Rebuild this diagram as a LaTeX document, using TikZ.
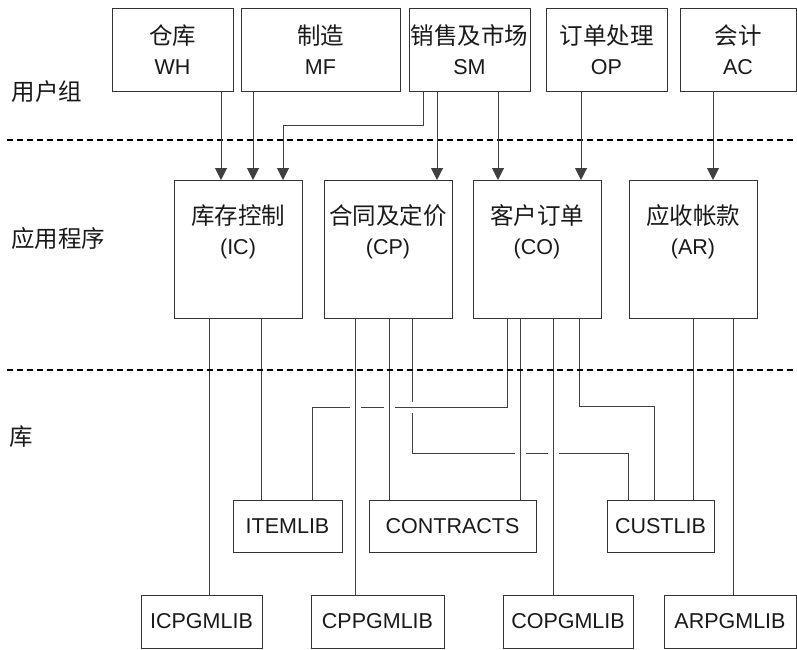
\documentclass[tikz,border=0pt]{standalone}
\usepackage{fontspec}
\setmainfont{Liberation Sans}
\newfontfamily\cjk{Noto Sans CJK SC}
\usepackage{tikz}
\usetikzlibrary{arrows.meta,positioning,backgrounds}

\newcommand{\zh}[1]{{\cjk\fontsize{23.5}{30}\selectfont #1}}

\begin{document}
\begin{tikzpicture}[x=1pt,y=-1pt,
    box/.style={draw=black!80,line width=1pt,outer sep=0pt,inner sep=0pt},
    txt/.style={align=center,font=\fontsize{21.5}{30}\selectfont,text=black!90},
    grp/.style={box,txt,minimum height=83pt},
    app/.style={box,minimum width=128pt,minimum height=138pt},
    lib/.style={box,txt,minimum height=52pt},
    lnk/.style={draw=black!75,line width=1pt},
    arr/.style={lnk,-{Triangle[width=12pt,length=12pt]}},
    over/.style={lnk,preaction={draw=white,line width=11pt}},
    sep/.style={draw=black,line width=1.5pt,dash pattern=on 6pt off 4pt}]
    \useasboundingbox (0,0) rectangle (797,649);

    % 分层
    \node[txt] (ug) at (47,92) {\zh{用户组}};
    \node[txt] (ap) at (58,239) {\zh{应用程序}};
    \node[txt] (lb) at (21,437) {\zh{库}};
    \draw[sep] (7,140) -- (797,140);
    \draw[sep] (7,370) -- (797,370);

    % 用户组
    \node[grp,minimum width=121pt] (wh) at (172.5,49.5) {\zh{仓库}\\WH};
    \node[grp,minimum width=159pt] (mf) at (320.5,49.5) {\zh{制造}\\MF};
    \node[grp,minimum width=121pt] (sm) at (469.5,49.5) {\zh{销售及市场}\\SM};
    \node[grp,minimum width=121pt] (op) at (606.5,49.5) {\zh{订单处理}\\OP};
    \node[grp,minimum width=116pt] (ac) at (738,49.5) {\zh{会计}\\AC};

    % 应用程序
    \node[app] (ic) at (238,249) {};
    \node[app] (cp) at (388,249) {};
    \node[app] (co) at (537,249) {};
    \node[app] (ar) at (693,249) {};
    \node[txt] (ictxt) at ([yshift=-52pt]ic.north) {\zh{库存控制}\\(IC)};
    \node[txt] (cptxt) at ([yshift=-52pt]cp.north) {\zh{合同及定价}\\(CP)};
    \node[txt] (cotxt) at ([yshift=-52pt]co.north) {\zh{客户订单}\\(CO)};
    \node[txt] (artxt) at ([yshift=-52pt]ar.north) {\zh{应收帐款}\\(AR)};

    % 库
    \node[lib,minimum width=109pt] (itemlib) at (287.5,526) {ITEMLIB};
    \node[lib,minimum width=167pt] (contracts) at (452.5,526) {CONTRACTS};
    \node[lib,minimum width=107pt] (custlib) at (660.5,526) {CUSTLIB};
    \node[lib,minimum width=121pt,minimum height=53pt] (icpgm) at (201.5,621.5) {ICPGMLIB};
    \node[lib,minimum width=133pt,minimum height=53pt] (cppgm) at (377.5,621.5) {CPPGMLIB};
    \node[lib,minimum width=130pt,minimum height=53pt] (copgm) at (568,621.5) {COPGMLIB};
    \node[lib,minimum width=132pt,minimum height=53pt] (arpgm) at (730,621.5) {ARPGMLIB};

    % 用户组到应用程序
    \foreach \a/\b/\x in {wh/ic/221, mf/ic/253, sm/cp/437, sm/co/498, op/co/581, ac/ar/713}
        \draw[arr] (\a.south -| \x,0) -- (\b.north -| \x,0);
    \draw[arr] (sm.south -| 423,0) -- ++(0,34) -| (ic.north -| 283,0);

    % 应用程序到库
    \begin{scope}[on background layer]
        \draw[lnk] (cp.south -| 412,0) -- (412,453) -| (custlib.north -| 628,0);
        \draw[over] (co.south -| 507,0) |- (312,407) -- (itemlib.north -| 312,0);
        \foreach \a/\b/\x in {ic/icpgm/209, ic/itemlib/261, cp/cppgm/355, cp/contracts/389,
                co/contracts/520, co/copgm/553, ar/custlib/693, ar/arpgm/733}
            \draw[over] (\a.south -| \x,0) -- (\b.north -| \x,0);
        \draw[lnk] (co.south -| 579,0) |- (654,406) -- (custlib.north -| 654,0);
    \end{scope}
\end{tikzpicture}
\end{document}
